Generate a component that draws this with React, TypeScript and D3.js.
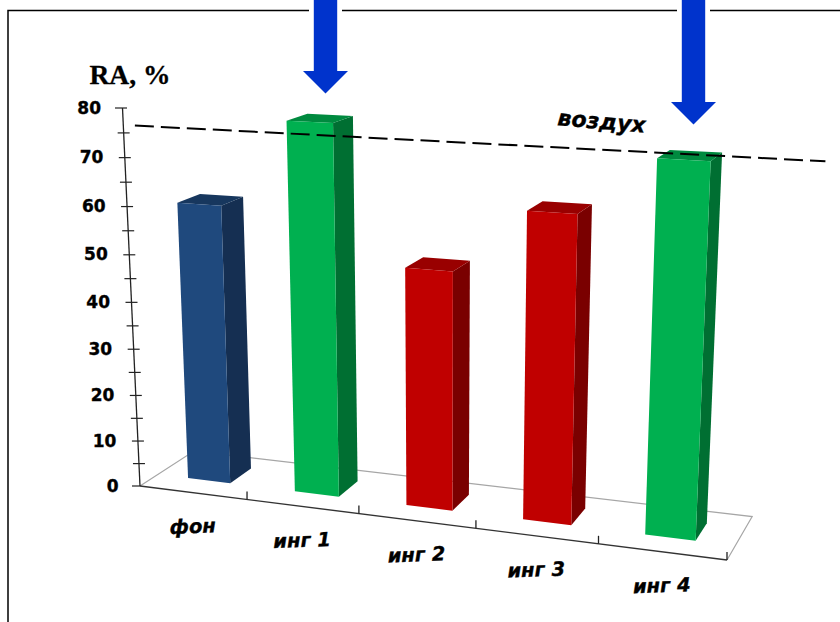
import React from "react";
import * as d3 from "d3";

const categories = ["фон", "инг 1", "инг 2", "инг 3", "инг 4"];
const values = [59.8, 77.8, 49.8, 62.8, 74.2];
const frontColors = ["#1F497D", "#00B050", "#C00000", "#C00000", "#00B050"];
const sideColors = ["#152F52", "#006F32", "#7A0000", "#7A0000", "#006F32"];
const topColors = ["#17375E", "#008A3F", "#990000", "#990000", "#008A3F"];
const majorTicks = [0, 10, 20, 30, 40, 50, 60, 70, 80];
const minorTicks = [5, 15, 25, 35, 45, 55, 65, 75];
const airValue = 76.6;
const airLabel = "воздух";
const yTitle = "RA, %";
const arrowCentres = [325.5, 693.5];
const arrowHeadY = [71, 102];

// projective box: origin and the images of the three unit axes
const O = [140, 486];
const X = [727, 560];
const Y = [122.5, 108];
const D = [194, 451];
const a = -0.108, b = -0.055, c = 0.0565;

function project(u: number, v: number, d: number): [number, number] {
  const w = 1 + a * u + b * v + c * d;
  const f = (i: number) =>
    (O[i] + (X[i] * (1 + a) - O[i]) * u + (Y[i] * (1 + b) - O[i]) * v + (D[i] * (1 + c) - O[i]) * d) / w;
  return [f(0), f(1)];
}

const uScale = d3.scaleBand<string>().domain(categories).range([0, 1]);
const vScale = d3.scaleLinear().domain([0, 80]).range([0, 1]);
const uLo = 0.29, uHi = 0.69, dLo = 0.32, dHi = 0.73;
const line = d3.line<[number, number]>();
const poly = (pts: [number, number][]) => line(pts) + "Z";
const font = "'DejaVu Sans', sans-serif";

export default function App() {
  const step = uScale.step();
  const P = (u: number, val: number, d: number) => project(u, vScale(val), d);
  return (
    <svg width={840} height={622} style={{ position: "absolute", left: 0, top: 0, background: "#fff" }}>
      <rect x={8} y={10.5} width={900} height={700} fill="none" stroke="#000" strokeWidth={1.5} />

      {/* floor */}
      <path d={line([P(0, 0, 0), P(0, 0, 1), P(1, 0, 1), P(1, 0, 0)])!} fill="none" stroke="#a6a6a6" strokeWidth={1.2} />
      <path d={line([P(0, 0, 0), P(1, 0, 0)])!} fill="none" stroke="#333" strokeWidth={1.4} />
      {d3.range(1, categories.length + 1).map((i) => {
        const [x, y] = P(i * step, 0, 0);
        return <line key={i} x1={x} x2={x} y1={y} y2={y - 8} stroke="#222" strokeWidth={1.3} />;
      })}

      {/* y axis */}
      <path d={line([P(0, 0, 0), P(0, 80, 0)])!} fill="none" stroke="#222" strokeWidth={1.3} />
      {[...majorTicks, ...minorTicks].map((t) => {
        const [x, y] = P(0, t, 0);
        const left = t === 0 ? 8 : t === 80 ? 7.5 : 6;
        const right = t === 0 ? 0 : t === 80 ? 4.5 : 6;
        return <line key={t} x1={x - left} x2={x + right} y1={y} y2={y} stroke="#222" strokeWidth={1.2} />;
      })}
      {majorTicks.map((t) => {
        const [x, y] = P(0, t, 0);
        return (
          <text key={t} x={x - 21.5} y={y + 5.5} textAnchor="end" fontFamily={font} fontWeight="bold" fontSize={17} stroke="#000" strokeWidth={0.35} fill="#000">
            {t}
          </text>
        );
      })}
      <text x={89.5} y={83.5} fontFamily="'Liberation Serif', serif" fontWeight="bold" fontSize={27.5} stroke="#000" strokeWidth={0.3} fill="#000">
        {yTitle}
      </text>

      {/* bars */}
      {categories.map((cat, i) => {
        const s = uScale(cat)!;
        const u0 = s + step * uLo, u1 = s + step * uHi, val = values[i];
        return (
          <g key={cat}>
            <path d={poly([P(u1, 0, dLo), P(u1, 0, dHi), P(u1, val, dHi), P(u1, val, dLo)])} fill={sideColors[i]} />
            <path d={poly([P(u0, val, dLo), P(u1, val, dLo), P(u1, val, dHi), P(u0, val, dHi)])} fill={topColors[i]} />
            <path d={poly([P(u0, 0, dLo), P(u1, 0, dLo), P(u1, val, dLo), P(u0, val, dLo)])} fill={frontColors[i]} />
          </g>
        );
      })}

      {/* category labels */}
      {categories.map((cat) => {
        const [x, y] = P(uScale(cat)! + step / 2, 0, 0);
        return (
          <text key={cat} transform={`translate(${x},${y + 40.5}) rotate(-2)`} textAnchor="middle" fontFamily={font}
            fontWeight="bold" fontStyle="italic" fontSize={19.5} stroke="#000" strokeWidth={0.35} fill="#000">
            {cat}
          </text>
        );
      })}

      {/* air reference */}
      <path d={line([P(0.021, airValue, 0), P(1.113, airValue, 0)])!} fill="none" stroke="#000" strokeWidth={2} strokeDasharray="19 7" />
      <text transform="translate(601,129) rotate(5)" textAnchor="middle" fontFamily={font} fontWeight="bold" fontStyle="italic" fontSize={22} stroke="#000" strokeWidth={0.35} fill="#000">
        {airLabel}
      </text>

      {/* arrows */}
      {arrowCentres.map((cx, i) => {
        const hy = arrowHeadY[i];
        const arrow = poly([
          [cx - 11.7, -5], [cx + 11.7, -5], [cx + 11.7, hy], [cx + 22.5, hy], [cx, hy + 22.5], [cx - 22.5, hy], [cx - 11.7, hy],
        ]);
        return (
          <g key={cx}>
            <rect x={cx - 16.5} y={5} width={33} height={12} fill="#fff" />
            <path d={arrow} fill="#0033CC" />
          </g>
        );
      })}
    </svg>
  );
}
